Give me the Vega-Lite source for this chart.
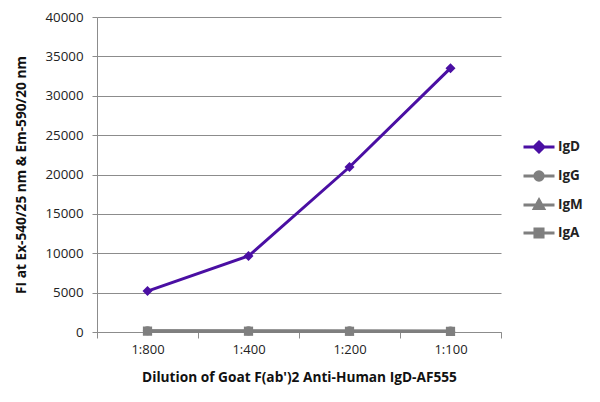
{
  "$schema": "https://vega.github.io/schema/vega-lite/v6.json",
  "width": 404,
  "height": 315,
  "autosize": "none",
  "padding": {"left": 97, "top": 17, "right": 99, "bottom": 70},
  "background": "white",
  "config": {"font": "Open Sans", "view": {"stroke": null}},
  "data": {"values": [
    {"dilution": "1:800", "series": "IgD", "fi": 5200},
    {"dilution": "1:400", "series": "IgD", "fi": 9650},
    {"dilution": "1:200", "series": "IgD", "fi": 20950},
    {"dilution": "1:100", "series": "IgD", "fi": 33500},
    {"dilution": "1:800", "series": "IgG", "fi": 160},
    {"dilution": "1:400", "series": "IgG", "fi": 140},
    {"dilution": "1:200", "series": "IgG", "fi": 130},
    {"dilution": "1:100", "series": "IgG", "fi": 110},
    {"dilution": "1:800", "series": "IgM", "fi": 130},
    {"dilution": "1:400", "series": "IgM", "fi": 120},
    {"dilution": "1:200", "series": "IgM", "fi": 110},
    {"dilution": "1:100", "series": "IgM", "fi": 100},
    {"dilution": "1:800", "series": "IgA", "fi": 110},
    {"dilution": "1:400", "series": "IgA", "fi": 100},
    {"dilution": "1:200", "series": "IgA", "fi": 90},
    {"dilution": "1:100", "series": "IgA", "fi": 80}
  ]},
  "encoding": {
    "x": {
      "field": "dilution", "type": "nominal", "sort": ["1:800", "1:400", "1:200", "1:100"],
      "scale": {"type": "band", "paddingInner": 0, "paddingOuter": 0},
      "axis": {
        "title": "Dilution of Goat F(ab')2 Anti-Human IgD-AF555",
        "labelAngle": 0, "tickBand": "extent", "domainColor": "#8c8c8c", "tickColor": "#8c8c8c",
        "tickSize": 6, "labelFontSize": 13, "labelColor": "#222", "labelPadding": 5,
        "titleFontSize": 13.7, "titleFontWeight": "bold", "titleColor": "#111", "titlePadding": 14
      }
    },
    "y": {
      "field": "fi", "type": "quantitative",
      "scale": {"domain": [0, 40000]},
      "axis": {
        "title": "FI at Ex-540/25 nm & Em-590/20 nm",
        "values": [0, 5000, 10000, 15000, 20000, 25000, 30000, 35000, 40000],
        "format": "d", "gridColor": "#8c8c8c", "domainColor": "#8c8c8c", "tickColor": "#8c8c8c",
        "tickSize": 5, "labelPadding": 9, "labelFontSize": 13.3, "labelColor": "#222",
        "titleFontSize": 13.7, "titleFontWeight": "bold", "titleColor": "#111", "titlePadding": 16
      }
    },
    "color": {
      "field": "series", "type": "nominal",
      "scale": {"domain": ["IgD", "IgG", "IgM", "IgA"], "range": ["#4a0fa3", "#7f7f7f", "#7f7f7f", "#7f7f7f"]},
      "legend": {
        "title": null, "orient": "none", "legendX": 425, "legendY": 113,
        "labelFontSize": 13.5, "labelFontWeight": "bold", "labelColor": "#222",
        "labelOffset": 2, "rowPadding": 1,
        "encode": {"symbols": {"update": {
          "shape": {"signal": "datum.value === 'IgD' ? 'M-1,0L1,0M0,-0.32L0.32,0L0,0.32L-0.32,0Z' : datum.value === 'IgG' ? 'M-1,0L1,0M0.27,0A0.27,0.27 0 1,1 -0.27,0A0.27,0.27 0 1,1 0.27,0Z' : datum.value === 'IgM' ? 'M-1,0L1,0M0,-0.32L0.3,0.22L-0.3,0.22Z' : 'M-1,0L1,0M-0.26,-0.26L0.26,-0.26L0.26,0.26L-0.26,0.26Z'"},
          "size": {"value": 961},
          "strokeWidth": {"value": 3},
          "fill": {"scale": "color", "field": "value"},
          "stroke": {"scale": "color", "field": "value"},
          "opacity": {"value": 1}
        }}}
      }
    }
  },
  "layer": [
    {"mark": {"type": "line", "strokeWidth": 3}},
    {"transform": [{"filter": "datum.series === 'IgD'"}], "mark": {"type": "point", "shape": "diamond", "filled": true, "opacity": 1, "size": 100}},
    {"transform": [{"filter": "datum.series === 'IgG'"}], "mark": {"type": "point", "shape": "circle", "filled": true, "opacity": 1, "size": 85}},
    {"transform": [{"filter": "datum.series === 'IgM'"}], "mark": {"type": "point", "shape": "triangle-up", "filled": true, "opacity": 1, "size": 85}},
    {"transform": [{"filter": "datum.series === 'IgA'"}], "mark": {"type": "point", "shape": "square", "filled": true, "opacity": 1, "size": 85}}
  ]
}
